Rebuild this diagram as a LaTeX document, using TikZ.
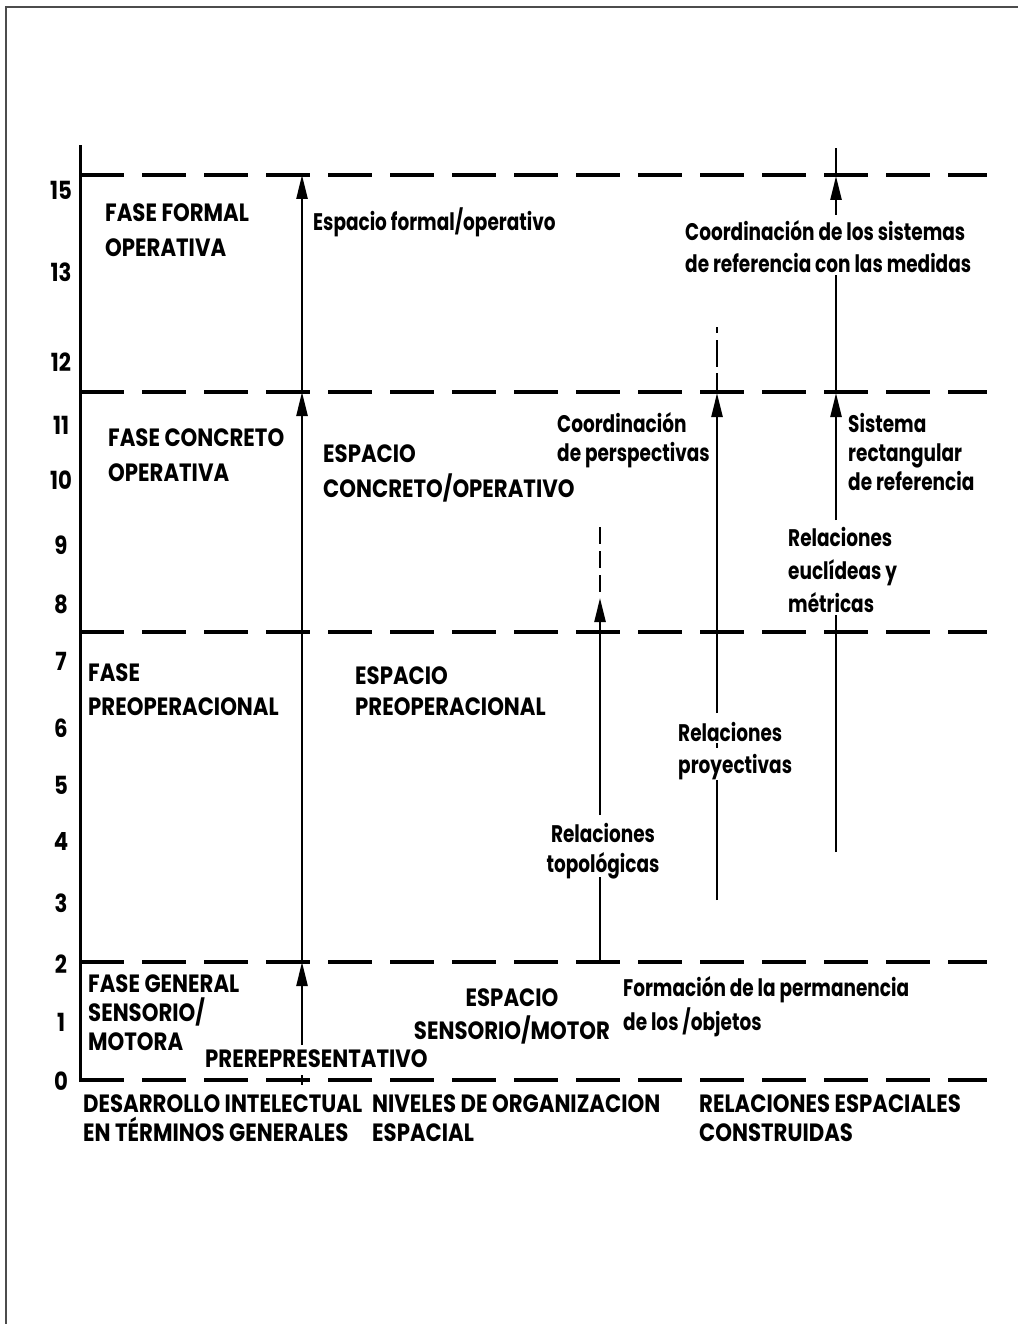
\documentclass[tikz,border=0pt]{standalone}
\usepackage{fontspec}
\usetikzlibrary{arrows.meta}
\newfontfamily\capfont{Poppins}[FakeStretch=0.85]
\newfontfamily\labfont{Poppins}[FakeStretch=0.77]
\begin{document}
\begin{tikzpicture}[x=1pt,y=-1pt,
  capsblk/.style={anchor=north west,inner sep=0pt,align=left,
    font={\capfont\bfseries\fontsize{25}{#1}\selectfont}},
  lowblk/.style={anchor=north west,inner sep=0pt,align=left,
    font={\labfont\bfseries\fontsize{24}{#1}\selectfont}},
  num/.style={inner sep=0pt,font={\capfont\bfseries\fontsize{25}{25}\selectfont}},
  level/.style={line width=3.5pt,dash pattern=on 44pt off 18pt},
  axisline/.style={line width=3pt},
  riser/.style={line width=2.5pt},
  arr/.style={line width=2.5pt,-{Triangle[width=11pt,length=24pt]}},
  dotted riser/.style={line width=2.5pt,dash pattern=on 17pt off 7pt}]
\useasboundingbox (0,0) rectangle (1018,1324);

% scan edge of the page
\coordinate (pgA) at (6,1324);
\coordinate (pgB) at (6,7);
\coordinate (pgC) at (1018,7);
\draw[line width=1.5pt,black!70] (pgA) -- (pgB) -- (pgC);

% age axis and stage boundaries
\coordinate (ax0) at (80,1082);
\coordinate (ax1) at (80,145);
\draw[axisline] (ax0) -- (ax1);
\foreach \nm/\yy in {L15/175,L115/392,L75/632,L2/962,L0/1080}{
  \coordinate (\nm w) at (80,\yy);
  \coordinate (\nm e) at (987,\yy);
  \draw[level] (\nm w) -- (\nm e);
}

% age numbers
\foreach \nm/\lab/\yy in {n15/15/190,n13/13/272,n12/12/362,n11/11/425,n10/10/480,
  n9/9/545,n8/8/604,n7/7/661,n6/6/728,n5/5/785,n4/4/841,n3/3/903,n2/2/964,n1/1/1022,n0/0/1081}{
  \node[num] (\nm) at (61,\yy) {\lab};
}

% intellectual stages
\node[capsblk=35] (ffo) at (105,203) {FASE FORMAL\\OPERATIVA};
\node[capsblk=35] (fco) at (108,428) {FASE CONCRETO\\OPERATIVA};
\node[capsblk=34] (fpr) at (88,663) {FASE\\PREOPERACIONAL};
\node[capsblk=29] (fgs) at (88,974) {FASE GENERAL\\SENSORIO/\\MOTORA};

% levels of spatial organisation
\node[lowblk=32] (efo) at (313,208) {Espacio formal/operativo};
\node[capsblk=35] (eco) at (323,444) {ESPACIO\\CONCRETO/OPERATIVO};
\node[capsblk=31] (epr) at (355,666) {ESPACIO\\PREOPERACIONAL};
\node[capsblk=33,anchor=north,align=center] (esm) at (512,988) {ESPACIO\\SENSORIO/MOTOR};
\node[capsblk=29] (pre) at (205,1049) {PREREPRESENTATIVO};

% constructed spatial relations
\node[lowblk=32] (cst) at (685,220) {Coordinación de los sistemas\\de referencia con las medidas};
\node[lowblk=29] (cpe) at (557,412) {Coordinación\\de perspectivas};
\node[lowblk=29] (sis) at (848,413) {Sistema\\rectangular\\de referencia};
\node[lowblk=33] (reu) at (788,527) {Relaciones\\euclídeas y\\métricas};
\node[lowblk=32] (rpr) at (678,722) {Relaciones\\proyectivas};
\node[lowblk=30,anchor=north,align=center] (rto) at (603,823) {Relaciones\\topológicas};
\node[lowblk=34] (fpo) at (623,976) {Formación de la permanencia\\de los /objetos};

% column headings
\node[capsblk=29] (h1) at (83,1094) {DESARROLLO INTELECTUAL\\EN TÉRMINOS GENERALES};
\node[capsblk=29] (h2) at (372,1094) {NIVELES DE ORGANIZACION\\ESPACIAL};
\node[capsblk=29] (h3) at (699,1094) {RELACIONES ESPACIALES\\CONSTRUIDAS};

% main line of spatial development
\coordinate (m0) at (302,1045);
\coordinate (m2) at (302,962);
\coordinate (m115) at (302,392);
\coordinate (m15) at (302,175);
\coordinate (mt0) at (302,1075);
\coordinate (mt1) at (302,1085);
\draw[arr] (m0) -- (m2);
\draw[arr] (m2) -- (m115);
\draw[arr] (m115) -- (m15);
\draw[line width=2pt] (mt0) -- (mt1);

% topological relations
\coordinate (t2) at (600,962);
\coordinate (tb) at (600,877);
\coordinate (tt) at (600,815);
\coordinate (th) at (600,598);
\coordinate (td) at (600,527);
\draw[riser] (t2) -- (tb);
\draw[arr] (tt) -- (th);
\draw[dotted riser] (td) -- (th);

% projective relations
\coordinate (p0) at (717,900);
\coordinate (pb) at (717,780);
\coordinate (pm0) at (717,743);
\coordinate (pm1) at (717,748);
\coordinate (pt) at (717,713);
\coordinate (ph) at (717,393);
\coordinate (pd) at (717,327);
\draw[riser] (p0) -- (pb);
\draw[riser] (pm0) -- (pm1);
\draw[arr] (pt) -- (ph);
\draw[line width=2.5pt,dash pattern=on 6pt off 7pt on 27pt off 6pt on 40pt off 0pt] (pd) -- (ph);

% euclidean relations and reference systems
\coordinate (e0) at (836,852);
\coordinate (eb) at (836,615);
\coordinate (et) at (836,520);
\coordinate (eh) at (836,393);
\coordinate (ec) at (836,275);
\coordinate (ed) at (836,215);
\coordinate (ef) at (836,176);
\coordinate (eg) at (836,148);
\draw[riser] (e0) -- (eb);
\draw[arr] (et) -- (eh);
\draw[riser] (eh) -- (ec);
\draw[arr] (ed) -- (ef);
\draw[riser] (ef) -- (eg);
\end{tikzpicture}
\end{document}
